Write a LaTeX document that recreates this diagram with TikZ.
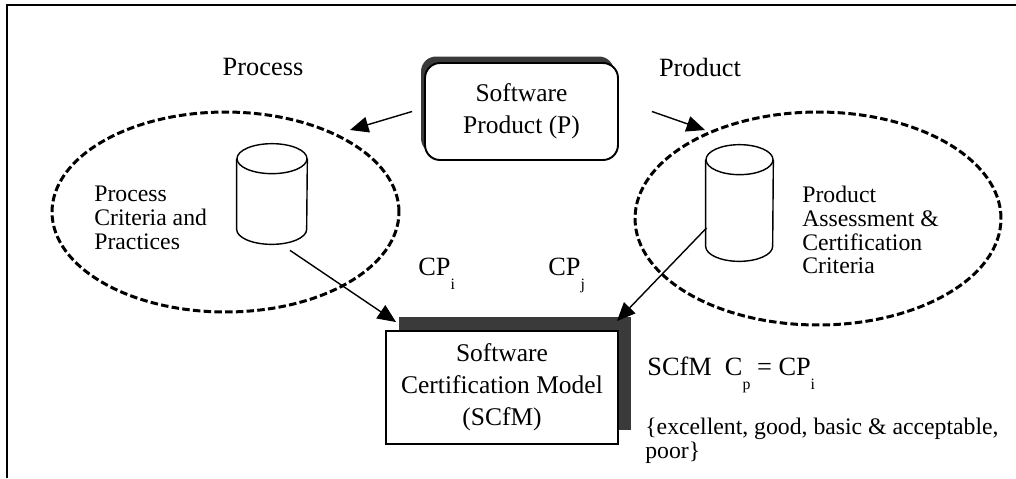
\documentclass[tikz,border=0pt]{standalone}
\usepackage{fontspec}
\setmainfont{Liberation Serif}
\usepackage{tikz}
\usetikzlibrary{arrows.meta,positioning,calc,shapes.geometric,shadows}
\definecolor{scfshade}{RGB}{58,58,58}
\newcommand{\lowsub}[1]{\raisebox{-8pt}{\fontsize{9}{9}\selectfont #1}}

\begin{document}
\begin{tikzpicture}[x=0.02cm,y=-0.02cm,
  frame/.style={draw=black,line width=1.1pt},
  heading/.style={font=\fontsize{15}{18}\selectfont,inner sep=0pt},
  note/.style={font=\fontsize{13.5}{13.6}\selectfont,align=left,inner sep=0pt},
  boxtext/.style={font=\fontsize{14.5}{18.2}\selectfont,align=center},
  prodbox/.style={draw=black,line width=1.1pt,fill=white,rounded corners=0.3cm,
    minimum width=3.86cm,minimum height=1.94cm,
    general shadow={shadow xshift=-0.08cm,shadow yshift=0.13cm,fill=scfshade}},
  modelbox/.style={draw=black,line width=1.1pt,fill=white,
    minimum width=4.64cm,minimum height=2.26cm,
    general shadow={shadow xshift=0.26cm,shadow yshift=0.28cm,fill=scfshade}},
  dbase/.style={rectangle,inner sep=0pt},
  dbline/.style={draw=black,line width=0.8pt},
  group/.style={ellipse,draw=black,line width=0.06cm,
    dash pattern=on 0.15cm off 0.065cm,inner sep=0pt},
  flow/.style={-{Triangle[length=10.5pt,width=9pt]},draw=black,line width=0.8pt}]

\path[use as bounding box] (0,0) rectangle (1016,478);
\draw[frame] (7,478) -- (7,5) -- (1016,5);
\node[heading] (hproc) at (263,67) {Process};
\node[heading] (hprod) at (700,67) {Product};
\node[prodbox,boxtext] (sp) at (521.5,111.5) {Software\\Product (P)};
\node[group,minimum width=6.94cm,minimum height=4cm] (pell) at (225.5,212) {};
\node[group,minimum width=7.32cm,minimum height=4.26cm] (rell) at (818,218.5) {};
\node[dbase,minimum width=1.4cm,minimum height=1.4cm] (pcyl) at (272,194) {};
\node[dbase,minimum width=1.34cm,minimum height=1.72cm] (rcyl) at (739.5,203) {};
\foreach \c/\r in {pcyl/35,rcyl/33.5}{
  \draw[dbline] (\c.north) ellipse[x radius=\r,y radius=15];
  \draw[dbline] (\c.north west) -- (\c.south west)
    arc[start angle=180,end angle=0,x radius=\r,y radius=15] -- (\c.north east);
}
\node[note,anchor=west] (ptext) at (94,218) {Process\\Criteria and\\Practices};
\node[note,anchor=west] (rtext) at (802,230) {Product\\Assessment \&\\Certification\\Criteria};
\node[heading,anchor=base west] (cpi) at (418,275) {CP\lowsub{i}};
\node[heading,anchor=base west] (cpj) at (548,275) {CP\lowsub{j}};
\node[modelbox,boxtext] (scfm) at (502,387.5) {Software\\Certification Model\\(SCfM)};
\node[heading,anchor=base west] (rule) at (647,375) {SCfM\enspace C\lowsub{p} = CP\lowsub{i}};
\node[note,anchor=west] (grades) at (645,441) {\{excellent, good, basic \& acceptable,\\poor\}};
\coordinate (ptip) at (350,130);
\coordinate (qtip) at (705,130);
\draw[flow] ([shift={(-12,0)}]sp.west) -- (ptip);
\draw[flow] ([shift={(33,0)}]sp.east) -- (qtip);
\draw[flow] ([shift={(18,21)}]pcyl.south) -- ([shift={(11,-8)}]scfm.north west);
\draw[flow] ([shift={(-33,25)}]rcyl.center) -- ([shift={(-2,-9)}]scfm.north east);

\end{tikzpicture}
\end{document}
